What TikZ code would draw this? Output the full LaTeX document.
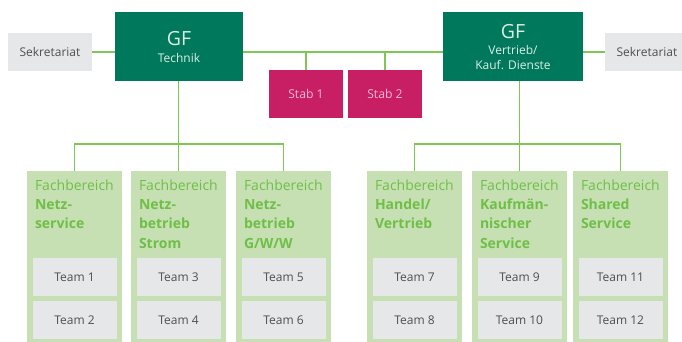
\documentclass[tikz,border=0pt]{standalone}
\usepackage{fontspec}
\setmainfont{Open Sans}
\definecolor{gfgreen}{HTML}{00785C}
\definecolor{gftext}{HTML}{DCEEE6}
\definecolor{stabred}{HTML}{C81E63}
\definecolor{stabtext}{HTML}{F4B8CF}
\definecolor{linegreen}{HTML}{7DC855}
\definecolor{colfill}{HTML}{C6E0B4}
\definecolor{coltext}{HTML}{6FBF47}
\definecolor{boxgray}{HTML}{E6E7E8}
\definecolor{darktext}{HTML}{4F4F4F}
\tikzset{
  box/.style={rectangle, inner sep=0pt, minimum height=#1},
  gfbox/.style={box=69pt, fill=gfgreen},
  sekbox/.style={box=38pt, minimum width=84pt, fill=boxgray, text=darktext,
    font=\fontsize{12}{14}\selectfont},
  stabbox/.style={box=48pt, minimum width=74pt, fill=stabred, text=stabtext,
    font=\fontsize{12.2}{14}\selectfont},
  colbox/.style={box=174pt, minimum width=95pt, fill=colfill},
  teambox/.style={box=38pt, minimum width=84pt, fill=boxgray, text=darktext,
    font=\fontsize{12}{14}\selectfont},
  coltitle/.style={anchor=north west, inner sep=0pt, align=left, text=coltext,
    font=\fontsize{14}{19.3}\selectfont},
  gfbig/.style={anchor=base, inner sep=0pt, text=gftext, font=\fontsize{19.5}{22}\selectfont},
  gfsmall/.style={anchor=base, inner sep=0pt, text=gftext, font=\fontsize{12}{14}\selectfont},
  link/.style={draw=linegreen, line width=1.3pt}
}
\begin{document}
\begin{tikzpicture}[x=1pt, y=-1pt]
\useasboundingbox (0,0) rectangle (682,341);
\clip (0,0) rectangle (682,341);

% management boxes
\node[gfbox, minimum width=128pt] (gft) at (179,46.5) {};
\node[gfbig] (gftA) at (179,45.7) {GF};
\node[gfsmall] (gftB) at (179,62) {Technik};

\node[gfbox, minimum width=140pt] (gfv) at (513,46.5) {};
\node[gfbig] (gfvA) at (513,38.3) {GF};
\node[gfsmall] (gfvB) at (513,54.3) {Vertrieb/};
\node[gfsmall] (gfvC) at (513,69.3) {Kauf. Dienste};

% secretariats and staff units
\node[sekbox] (sekL) at (50,52) {Sekretariat};
\node[sekbox] (sekR) at (647,52) {Sekretariat};
\node[stabbox] (stab1) at (306,94) {Stab 1};
\node[stabbox] (stab2) at (385,94) {Stab 2};

% departments
\foreach \n/\cx in {1/74.5, 2/178.5, 3/283.5, 4/414.5, 5/519.5, 6/620.5}
  \node[colbox] (col\n) at (\cx,258) {};

\node[coltitle] (t1) at ([xshift=8pt,yshift=-8.5pt]col1.north west)
  {Fachbereich\\\textbf{Netz-}\\\textbf{service}};
\node[coltitle] (t2) at ([xshift=8pt,yshift=-8.5pt]col2.north west)
  {Fachbereich\\\textbf{Netz-}\\\textbf{betrieb}\\\textbf{Strom}};
\node[coltitle] (t3) at ([xshift=8pt,yshift=-8.5pt]col3.north west)
  {Fachbereich\\\textbf{Netz-}\\\textbf{betrieb}\\\textbf{G/W/W}};
\node[coltitle] (t4) at ([xshift=8pt,yshift=-8.5pt]col4.north west)
  {Fachbereich\\\textbf{Handel/}\\\textbf{Vertrieb}};
\node[coltitle] (t5) at ([xshift=8pt,yshift=-8.5pt]col5.north west)
  {Fachbereich\\\textbf{Kaufmän-}\\\textbf{nischer}\\\textbf{Service}};
\node[coltitle] (t6) at ([xshift=8pt,yshift=-8.5pt]col6.north west)
  {Fachbereich\\\textbf{Shared}\\\textbf{Service}};

% teams
\foreach \n/\a/\b in {1/1/2, 2/3/4, 3/5/6, 4/7/8, 5/9/10, 6/11/12} {
  \node[teambox] (team\a) at (col\n.center |- 0,277) {Team \a};
  \node[teambox] (team\b) at (col\n.center |- 0,320) {Team \b};
}

% connectors
\coordinate (busL) at (0,144);
\path[link] (sekL.east) -- (gft.west |- sekL.east);
\path[link] (gft.east |- sekL.east) -- (gfv.west |- sekL.east);
\path[link] (gfv.east |- sekR.west) -- (sekR.west);
\path[link] (stab1.north |- sekL.east) -- (stab1.north);
\path[link] (stab2.north |- sekL.east) -- (stab2.north);

\path[link] (gft.south -| col2.north) -- (col2.north);
\path[link] (col1.north) -- (col1.north |- busL) -- (col3.north |- busL) -- (col3.north);
\path[link] (gfv.south -| col5.north) -- (col5.north);
\path[link] (col4.north) -- (col4.north |- busL) -- (col6.north |- busL) -- (col6.north);
\end{tikzpicture}
\end{document}
